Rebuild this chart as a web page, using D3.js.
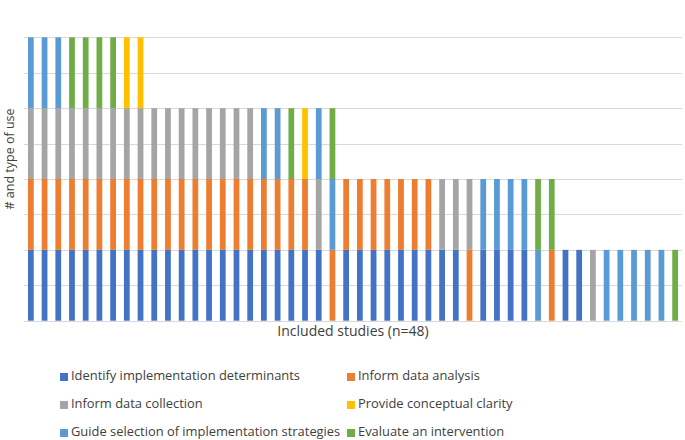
<!DOCTYPE html>
<html><head><meta charset="utf-8">
<script src="https://cdn.jsdelivr.net/npm/d3@7"></script>
<style>body{margin:0;background:#fff}svg{display:block}text{font-family:"Open Sans",sans-serif;fill:#404040}</style>
</head><body><div id="chart"></div>
<script>
const studies = d3.range(1, 49).map(String);
const seriesNames = ["Identify implementation determinants","Inform data analysis","Inform data collection","Provide conceptual clarity","Guide selection of implementation strategies","Evaluate an intervention"];
const seriesColors = ["#4472C4","#ED7D31","#A5A5A5","#FFC000","#5B9BD5","#70AD47"];
// 1 = study used theory for this purpose
const identify   = [1,1,1,1,1,1,1,1,1,1,1,1,1,1,1,1,1,1,1,1,1,1,0,1,1,1,1,1,1,1,1,1,0,1,1,1,1,0,0,1,1,0,0,0,0,0,0,0];
const analysis   = [1,1,1,1,1,1,1,1,1,1,1,1,1,1,1,1,1,1,1,1,1,0,1,1,1,1,1,1,1,1,0,0,1,0,0,0,0,0,1,0,0,0,0,0,0,0,0,0];
const collection = [1,1,1,1,1,1,1,1,1,1,1,1,1,1,1,1,1,0,0,0,0,1,0,0,0,0,0,0,0,0,1,1,1,0,0,0,0,0,0,0,0,1,0,0,0,0,0,0];
const clarity    = [0,0,0,0,0,0,0,1,1,0,0,0,0,0,0,0,0,0,0,0,1,0,0,0,0,0,0,0,0,0,0,0,0,0,0,0,0,0,0,0,0,0,0,0,0,0,0,0];
const strategies = [1,1,1,0,0,0,0,0,0,0,0,0,0,0,0,0,0,1,1,0,0,1,1,0,0,0,0,0,0,0,0,0,0,1,1,1,1,1,0,0,0,0,1,1,1,1,1,0];
const evaluate   = [0,0,0,1,1,1,1,0,0,0,0,0,0,0,0,0,0,0,0,1,0,0,1,0,0,0,0,0,0,0,0,0,0,0,0,0,0,1,1,0,0,0,0,0,0,0,0,1];
const yTicks = [0,0.5,1,1.5,2,2.5,3,3.5,4];

const allSeries = [identify, analysis, collection, clarity, strategies, evaluate];
const table = studies.map((s,i)=>{const o={study:s}; seriesNames.forEach((n,k)=>o[n]=allSeries[k][i]); return o;});
const stacked = d3.stack().keys(seriesNames)(table);

const W=685,H=440;
const svg=d3.select("#chart").append("svg").attr("width",W).attr("height",H);
const x=d3.scaleBand().domain(studies).range([24,682]).paddingInner(0.58).paddingOuter(0.29);
const y=d3.scaleLinear().domain([0,4]).range([320.7,37.3]);

svg.append("g").selectAll("line").data(yTicks).join("line")
  .attr("x1",24).attr("x2",682).attr("y1",d=>Math.round(y(d))+0.5).attr("y2",d=>Math.round(y(d))+0.5)
  .attr("stroke","#d9d9d9").attr("stroke-width",1);

svg.append("g").selectAll("g").data(stacked).join("g")
  .attr("fill",(d,i)=>seriesColors[i])
  .selectAll("rect").data(d=>d.filter(p=>p[1]>p[0])).join("rect")
  .attr("x",d=>x(d.data.study)).attr("width",x.bandwidth())
  .attr("y",d=>y(d[1])).attr("height",d=>y(d[0])-y(d[1]));

svg.append("text").attr("transform","translate(11,159) rotate(-90)")
  .attr("text-anchor","middle").attr("dominant-baseline","middle").style("font-size","12.5px").text("# and type of use");
svg.append("text").attr("x",353).attr("y",332).attr("text-anchor","middle").attr("dominant-baseline","middle")
  .style("font-size","14px").text("Included studies (n=48)");

const legPos=[[60,377],[347,377],[60,405],[347,405],[60,433],[347,433]];
const lg=svg.append("g").selectAll("g").data(seriesNames).join("g")
  .attr("transform",(d,i)=>`translate(${legPos[i][0]},${legPos[i][1]})`);
lg.append("rect").attr("x",0).attr("y",-4).attr("width",8).attr("height",8).attr("fill",(d,i)=>seriesColors[i]);
lg.append("text").attr("x",11).attr("y",0).attr("dominant-baseline","middle").style("font-size","12.9px").text(d=>d);
</script></body></html>
